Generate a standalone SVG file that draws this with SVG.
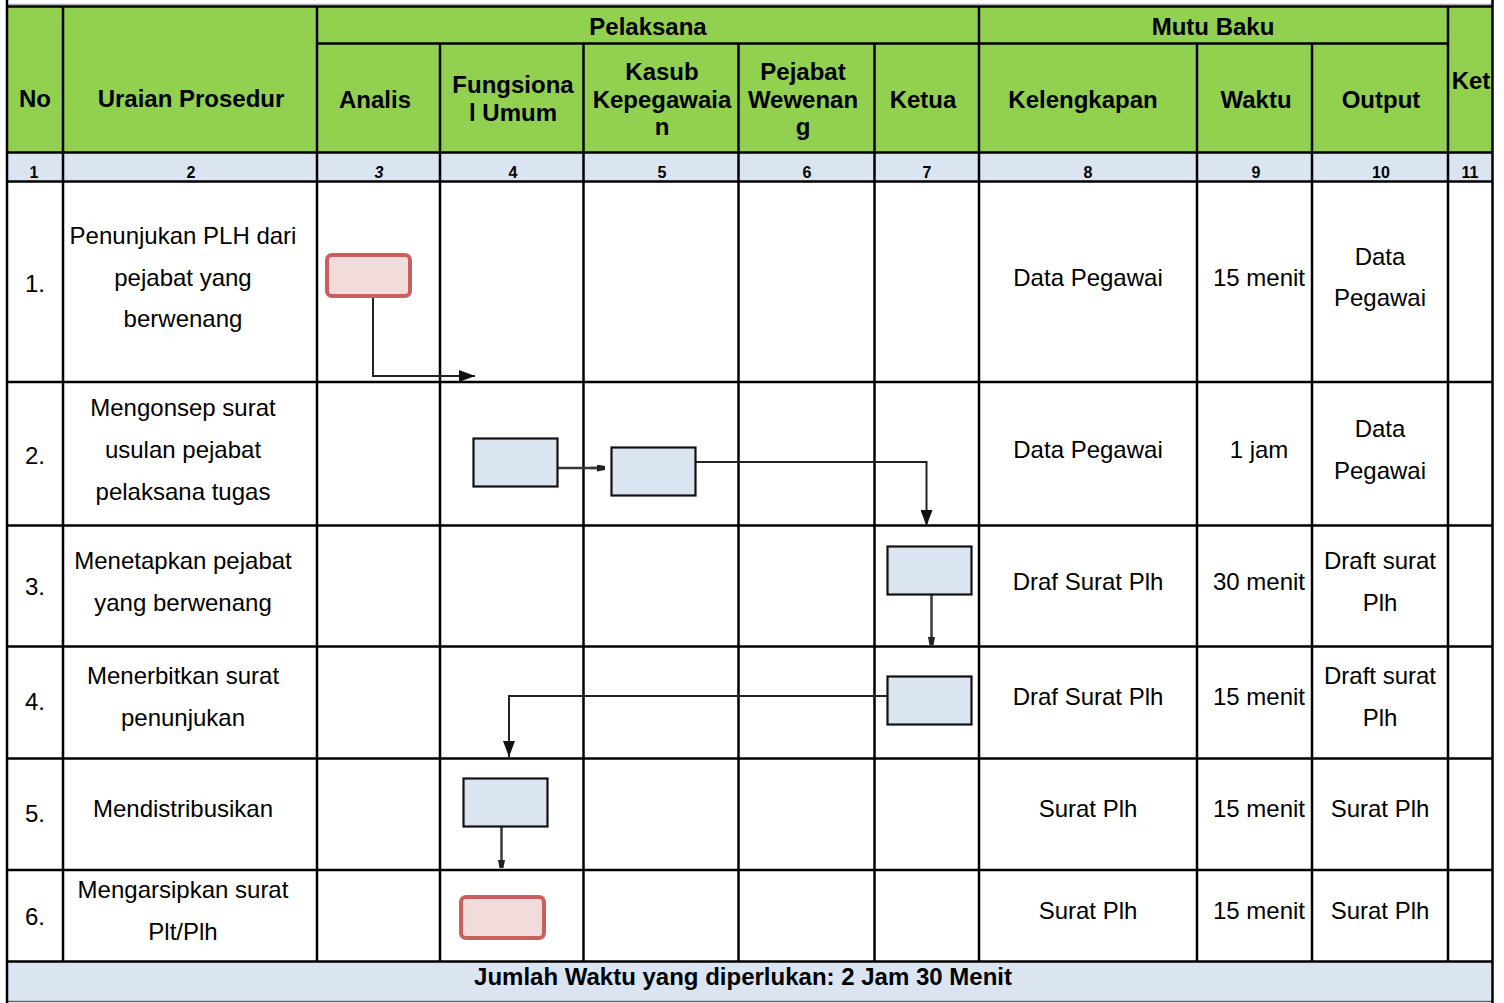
<svg xmlns="http://www.w3.org/2000/svg" width="1504" height="1003" viewBox="0 0 1504 1003">
<style>
  text { font-family: "Liberation Sans", Arial, sans-serif; fill: #000; }
  .h { font-size: 24px; font-weight: bold; text-anchor: middle; }
  .n { font-size: 16px; font-weight: bold; text-anchor: middle; }
  .t { font-size: 24px; text-anchor: middle; }
  .grid line { stroke: #000; stroke-width: 2.5; }
  .proc { fill: #dbe5f1; stroke: #111; stroke-width: 2.2; }
  .term { fill: #f2dcdb; stroke: #c9605d; stroke-width: 4; }
  .conn { fill: none; stroke: #222; stroke-width: 2; }
  .conn2 { fill: none; stroke: #3a3a3a; stroke-width: 2.5; }
</style>
<defs>
  <marker id="arrow" viewBox="0 0 16 12" refX="16" refY="6" markerWidth="16" markerHeight="12" markerUnits="userSpaceOnUse" orient="auto">
    <path d="M0,0 L16,6 L0,12 Z" fill="#111"/>
  </marker>
  <marker id="small" viewBox="0 0 8 7" refX="8" refY="3.5" markerWidth="8" markerHeight="7" markerUnits="userSpaceOnUse" orient="auto">
    <path d="M0,0 L8,1.5 L8,5.5 L0,7 Z" fill="#222"/>
  </marker>
</defs>
<rect x="0" y="0" width="1504" height="1003" fill="#fff"/>

<g id="table">
  <rect x="7" y="6" width="1486" height="147" fill="#92d050"/>
  <rect x="7" y="152.5" width="1486" height="29" fill="#dbe5f1"/>
  <rect x="7" y="961.5" width="1486" height="40" fill="#dbe5f1"/>
  <line x1="7" y1="4.5" x2="1493" y2="4.5" stroke="#aaa" stroke-width="1.5"/>
  <line x1="7" y1="1001.5" x2="1493" y2="1001.5" stroke="#666" stroke-width="1.5"/>
  <g class="grid">
    <line x1="7" y1="6.5" x2="1493" y2="6.5"/>
    <line x1="317" y1="43.5" x2="1448" y2="43.5"/>
    <line x1="7" y1="152.5" x2="1493" y2="152.5"/>
    <line x1="7" y1="181.5" x2="1493" y2="181.5"/>
    <line x1="7" y1="382" x2="1493" y2="382"/>
    <line x1="7" y1="525.5" x2="1493" y2="525.5"/>
    <line x1="7" y1="646.5" x2="1493" y2="646.5"/>
    <line x1="7" y1="758.5" x2="1493" y2="758.5"/>
    <line x1="7" y1="870" x2="1493" y2="870"/>
    <line x1="7" y1="961.5" x2="1493" y2="961.5"/>
    <line x1="7" y1="0" x2="7" y2="1003"/>
    <line x1="63" y1="6" x2="63" y2="961.5"/>
    <line x1="317" y1="6" x2="317" y2="961.5"/>
    <line x1="440" y1="43.5" x2="440" y2="961.5"/>
    <line x1="583.5" y1="43.5" x2="583.5" y2="961.5"/>
    <line x1="738.5" y1="43.5" x2="738.5" y2="961.5"/>
    <line x1="874.5" y1="43.5" x2="874.5" y2="961.5"/>
    <line x1="979" y1="6" x2="979" y2="961.5"/>
    <line x1="1197" y1="43.5" x2="1197" y2="961.5"/>
    <line x1="1312" y1="43.5" x2="1312" y2="961.5"/>
    <line x1="1448" y1="6" x2="1448" y2="961.5"/>
    <line x1="1492.5" y1="0" x2="1492.5" y2="1003"/>
  </g>
</g>

<g id="header">
  <text class="h" x="35" y="107">No</text>
  <text class="h" x="191" y="107">Uraian Prosedur</text>
  <text class="h" x="648" y="35">Pelaksana</text>
  <text class="h" x="1213" y="35">Mutu Baku</text>
  <text class="h" x="375" y="108">Analis</text>
  <text class="h" x="513" y="93">Fungsiona</text>
  <text class="h" x="513" y="121">l Umum</text>
  <text class="h" x="662" y="80">Kasub</text>
  <text class="h" x="662" y="108">Kepegawaia</text>
  <text class="h" x="662" y="135">n</text>
  <text class="h" x="803" y="80">Pejabat</text>
  <text class="h" x="803" y="108">Wewenan</text>
  <text class="h" x="803" y="135">g</text>
  <text class="h" x="923" y="108">Ketua</text>
  <text class="h" x="1083" y="108">Kelengkapan</text>
  <text class="h" x="1256" y="108">Waktu</text>
  <text class="h" x="1381" y="108">Output</text>
  <text class="h" x="1471" y="89">Ket</text>
</g>

<g id="numbers">
  <text class="n" x="34" y="178">1</text>
  <text class="n" x="191" y="178">2</text>
  <text class="n" x="379" y="178" font-style="italic">3</text>
  <text class="n" x="513" y="178">4</text>
  <text class="n" x="662" y="178">5</text>
  <text class="n" x="807" y="178">6</text>
  <text class="n" x="927" y="178">7</text>
  <text class="n" x="1088" y="178">8</text>
  <text class="n" x="1256" y="178">9</text>
  <text class="n" x="1381" y="178">10</text>
  <text class="n" x="1470" y="178">11</text>
</g>

<g id="rows">
  <text class="t" x="35" y="292">1.</text>
  <text class="t" x="183" y="244">Penunjukan PLH dari</text>
  <text class="t" x="183" y="286">pejabat yang</text>
  <text class="t" x="183" y="327">berwenang</text>
  <text class="t" x="1088" y="286">Data Pegawai</text>
  <text class="t" x="1259" y="286">15 menit</text>
  <text class="t" x="1380" y="265">Data</text>
  <text class="t" x="1380" y="306">Pegawai</text>

  <text class="t" x="35" y="464">2.</text>
  <text class="t" x="183" y="416">Mengonsep surat</text>
  <text class="t" x="183" y="458">usulan pejabat</text>
  <text class="t" x="183" y="500">pelaksana tugas</text>
  <text class="t" x="1088" y="458">Data Pegawai</text>
  <text class="t" x="1259" y="458">1 jam</text>
  <text class="t" x="1380" y="437">Data</text>
  <text class="t" x="1380" y="479">Pegawai</text>

  <text class="t" x="35" y="595">3.</text>
  <text class="t" x="183" y="569">Menetapkan pejabat</text>
  <text class="t" x="183" y="611">yang berwenang</text>
  <text class="t" x="1088" y="590">Draf Surat Plh</text>
  <text class="t" x="1259" y="590">30 menit</text>
  <text class="t" x="1380" y="569">Draft surat</text>
  <text class="t" x="1380" y="611">Plh</text>

  <text class="t" x="35" y="710">4.</text>
  <text class="t" x="183" y="684">Menerbitkan surat</text>
  <text class="t" x="183" y="726">penunjukan</text>
  <text class="t" x="1088" y="705">Draf Surat Plh</text>
  <text class="t" x="1259" y="705">15 menit</text>
  <text class="t" x="1380" y="684">Draft surat</text>
  <text class="t" x="1380" y="726">Plh</text>

  <text class="t" x="35" y="822">5.</text>
  <text class="t" x="183" y="817">Mendistribusikan</text>
  <text class="t" x="1088" y="817">Surat Plh</text>
  <text class="t" x="1259" y="817">15 menit</text>
  <text class="t" x="1380" y="817">Surat Plh</text>

  <text class="t" x="35" y="925">6.</text>
  <text class="t" x="183" y="898">Mengarsipkan surat</text>
  <text class="t" x="183" y="940">Plt/Plh</text>
  <text class="t" x="1088" y="919">Surat Plh</text>
  <text class="t" x="1259" y="919">15 menit</text>
  <text class="t" x="1380" y="919">Surat Plh</text>

  <text class="h" x="743" y="985">Jumlah Waktu yang diperlukan: 2 Jam 30 Menit</text>
</g>

<g id="connectors">
  <path class="conn" d="M373,296 V376 H475" marker-end="url(#arrow)"/>
  <path class="conn2" d="M558,468 H605"/>
  <path class="conn2" d="M590,468 H605" marker-end="url(#small)"/>
  <path class="conn" d="M696,462 H926.5 V526" marker-end="url(#arrow)"/>
  <path class="conn2" d="M931.5,595 V645" marker-end="url(#small)"/>
  <path class="conn" d="M887,696 H509 V757" marker-end="url(#arrow)"/>
  <path class="conn2" d="M501.5,827 V868" marker-end="url(#small)"/>
</g>

<g id="node-start">
  <rect class="term" x="327" y="255" width="83" height="41" rx="5"/>
</g>
<g id="node-konsep">
  <rect class="proc" x="473.5" y="438.5" width="84" height="48"/>
</g>
<g id="node-kasub">
  <rect class="proc" x="611.5" y="447.5" width="84" height="48"/>
</g>
<g id="node-ketua-tetapkan">
  <rect class="proc" x="887.5" y="546.5" width="84" height="48"/>
</g>
<g id="node-ketua-terbit">
  <rect class="proc" x="887.5" y="676.5" width="84" height="48"/>
</g>
<g id="node-distribusi">
  <rect class="proc" x="463.5" y="778.5" width="84" height="48"/>
</g>
<g id="node-end">
  <rect class="term" x="461" y="897" width="83" height="41" rx="5"/>
</g>
</svg>
